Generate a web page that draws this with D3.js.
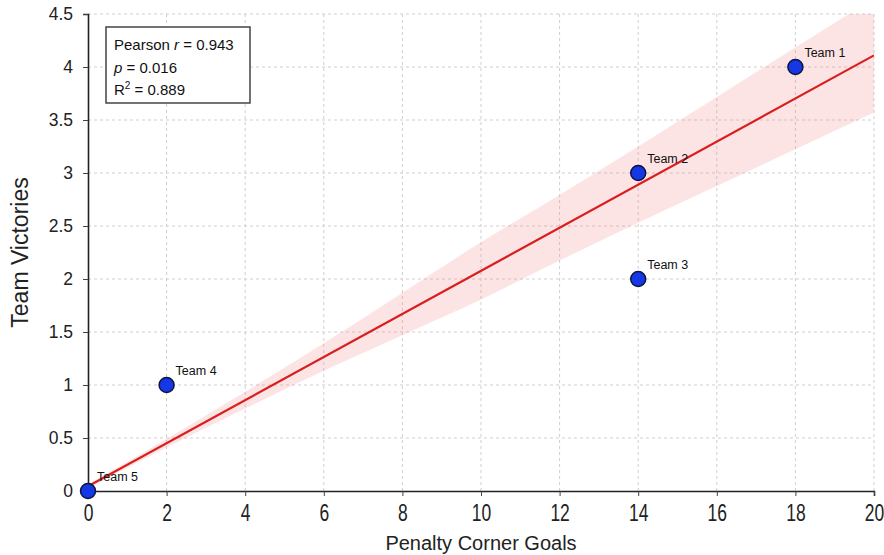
<!DOCTYPE html>
<html><head><meta charset="utf-8">
<script src="https://cdn.jsdelivr.net/npm/d3@7"></script>
<style>body{margin:0;background:#fff;} svg{display:block;}</style>
</head><body>
<script>
const teams = ["Team 1","Team 2","Team 3","Team 4","Team 5"];
const goals = [18, 14, 14, 2, 0];
const victories = [4, 3, 2, 1, 0];
const fitIntercept = 0.044;
const fitSlope = 0.2033;
const bandX = [0, 2, 4, 6, 8, 10, 12, 14, 16, 18, 20];
const bandHalf = [0.02, 0.04, 0.08, 0.13, 0.2, 0.27, 0.31, 0.36, 0.42, 0.48, 0.54];
const xTicks = [0,2,4,6,8,10,12,14,16,18,20];
const yTicks = [0,0.5,1,1.5,2,2.5,3,3.5,4,4.5];

const W = 884, H = 555;
const m = {l: 88, r: 10, t: 14, b: 64};
const svg = d3.select("body").append("svg").attr("width", W).attr("height", H);
const x = d3.scaleLinear().domain([0,20]).range([m.l, W - m.r]);
const y = d3.scaleLinear().domain([0,4.5]).range([H - m.b, m.t]);

svg.append("defs").append("clipPath").attr("id","clip")
  .append("rect").attr("x", m.l).attr("y", m.t).attr("width", x(20)-m.l).attr("height", y(0)-m.t);

// grid
const g = svg.append("g");
g.selectAll(".gx").data(xTicks.filter(d=>d>0)).join("line")
  .attr("x1", d=>x(d)).attr("x2", d=>x(d)).attr("y1", y(0)).attr("y2", y(4.5))
  .attr("stroke","#cfcfcf").attr("stroke-dasharray","3,3").attr("stroke-width",1);
g.selectAll(".gy").data(yTicks.filter(d=>d>0)).join("line")
  .attr("x1", x(0)).attr("x2", x(20)).attr("y1", d=>y(d)).attr("y2", d=>y(d))
  .attr("stroke","#cfcfcf").attr("stroke-dasharray","3,3").attr("stroke-width",1);

// band
const band = bandX.map((bx,i)=>({x:bx, lo: fitIntercept+fitSlope*bx-bandHalf[i], hi: fitIntercept+fitSlope*bx+bandHalf[i]}));
svg.append("path").datum(band).attr("clip-path","url(#clip)")
  .attr("fill","rgba(245,130,130,0.22)")
  .attr("d", d3.area().x(d=>x(d.x)).y0(d=>y(d.lo)).y1(d=>y(d.hi)).curve(d3.curveMonotoneX));

// fit line
svg.append("line").attr("clip-path","url(#clip)")
  .attr("x1", x(0)).attr("y1", y(fitIntercept)).attr("x2", x(20)).attr("y2", y(fitIntercept+fitSlope*20))
  .attr("stroke","#d91e1e").attr("stroke-width",2.2);

// axes
const font = "'Liberation Sans',Arial,sans-serif";
const xa = svg.append("g").attr("transform",`translate(0,${y(0)})`)
  .call(d3.axisBottom(x).tickValues(xTicks).tickSize(5).tickPadding(9).tickFormat(d3.format("")));
const ya = svg.append("g").attr("transform",`translate(${x(0)},0)`)
  .call(d3.axisLeft(y).tickValues(yTicks).tickSize(5).tickPadding(10).tickFormat(d3.format("")));
[xa, ya].forEach(a=>{
  a.select(".domain").attr("stroke","#222").attr("stroke-width",1.6);
  a.selectAll(".tick line").attr("stroke","#444");
  a.selectAll(".tick text").attr("font-family",font).attr("fill","#222");
});
ya.selectAll(".tick text").attr("font-size",17.5);
xa.selectAll(".tick text").attr("font-size",23).attr("dy","0.72em").attr("y", 13)
  .attr("transform","scale(0.76,1)");

// points
const pts = teams.map((t,i)=>({t, gx: goals[i], v: victories[i]}));
svg.selectAll(".pt").data(pts).join("circle")
  .attr("cx", d=>x(d.gx)).attr("cy", d=>y(d.v)).attr("r", 7.5)
  .attr("fill","#1537e6").attr("stroke","#0b1640").attr("stroke-width",1.5);
svg.selectAll(".lbl").data(pts).join("text")
  .attr("x", d=>x(d.gx)+9).attr("y", d=>y(d.v)-10)
  .attr("font-family",font).attr("font-size",12.5).attr("fill","#111")
  .text(d=>d.t);

// titles
svg.append("text").attr("x", (x(0)+x(20))/2).attr("y", 550).attr("text-anchor","middle")
  .attr("font-family",font).attr("font-size",20).attr("fill","#222").text("Penalty Corner Goals");
svg.append("text").attr("transform",`translate(28,${(y(0)+y(4.5))/2}) rotate(-90)`).attr("text-anchor","middle")
  .attr("font-family",font).attr("font-size",23).attr("fill","#222").text("Team Victories");

// stats box
const bx = svg.append("g");
bx.append("rect").attr("x",106).attr("y",27).attr("width",144).attr("height",76)
  .attr("fill","#fff").attr("stroke","#444").attr("stroke-width",1.5);
const t1 = bx.append("text").attr("x",114).attr("y",50).attr("font-family",font).attr("font-size",15).attr("fill","#111");
t1.append("tspan").text("Pearson ");
t1.append("tspan").attr("font-style","italic").text("r");
t1.append("tspan").text(" = 0.943");
const t2 = bx.append("text").attr("x",114).attr("y",73).attr("font-family",font).attr("font-size",15).attr("fill","#111");
t2.append("tspan").attr("font-style","italic").text("p");
t2.append("tspan").text(" = 0.016");
const t3 = bx.append("text").attr("x",114).attr("y",95).attr("font-family",font).attr("font-size",15).attr("fill","#111");
t3.append("tspan").text("R");
t3.append("tspan").attr("font-size",10).attr("dy",-6).text("2");
t3.append("tspan").attr("dy",6).text(" = 0.889");
</script>
</body></html>
